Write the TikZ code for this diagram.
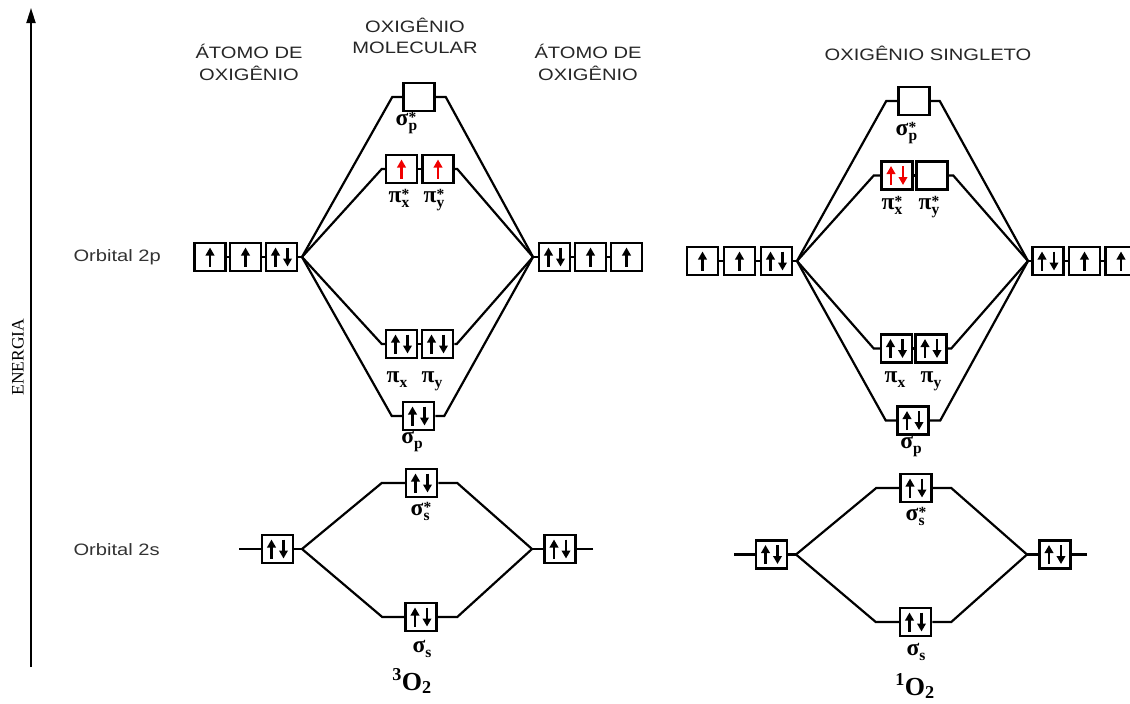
\documentclass[tikz,border=0pt]{standalone}
\usepackage{fontspec}
\setmainfont{Liberation Serif}
\newfontfamily\hdrfont[FakeStretch=1.22]{Liberation Sans}
\usetikzlibrary{arrows.meta,calc}

\definecolor{spinred}{RGB}{240,0,0}

\tikzset{
  obox/.style={draw, line width=2.5pt, minimum width=31pt, minimum height=28pt, inner sep=0pt},
  link/.style={line width=2.2pt, line join=miter},
  spin/.style={line width=2.3pt, -{Triangle[length=8pt,width=8.5pt]}},
  hdr/.style={font=\hdrfont\fontsize{16.5}{21.5}\selectfont, align=center, text=black!85},
  side/.style={font=\hdrfont\fontsize{16.5}{20}\selectfont, text=black!80, anchor=west},
  olbl/.style={font=\bfseries\fontsize{23.5}{23.5}\selectfont, anchor=base},
  mlbl/.style={font=\bfseries\fontsize{26}{26}\selectfont, anchor=base},
}

% electron spins drawn inside an orbital box
\newcommand\spinup[3][black]{\draw[spin,#1] ($(#2)+(#3,9.5)$) -- ++(0,-19);}
\newcommand\spindn[3][black]{\draw[spin,#1] ($(#2)+(#3,-9.5)$) -- ++(0,19);}
\newcommand\pairin[2][black]{\spinup[#1]{#2}{-6}\spindn[#1]{#2}{6}}

% orbital labels
\newcommand\sbs{\fontsize{15.5}{15.5}\selectfont}
\newcommand\orb[2]{#1\raisebox{-0.22em}{\sbs #2}}
\newcommand\orbst[2]{#1\rlap{\raisebox{-0.25em}{\sbs #2}}\raisebox{0.12em}{\sbs *}}

\begin{document}
\begin{tikzpicture}[x=1pt,y=-1pt]
\useasboundingbox (0,0) rectangle (1130,704);
\clip (0,0) rectangle (1130,704);

% energy axis
\coordinate (axb) at (31,667);
\coordinate (axt) at (31,8);
\draw[line width=1.8pt, -{Triangle[length=15pt,width=9pt]}] (axb) -- (axt);
\node[rotate=90, font=\fontsize{17.5}{17.5}\selectfont] (en) at (18,357) {ENERGIA};

% headings
\node[hdr] (hA) at (249,62.5) {ÁTOMO DE\\OXIGÊNIO};
\node[hdr] (hM) at (415,36) {OXIGÊNIO\\MOLECULAR};
\node[hdr] (hB) at (588,62.5) {ÁTOMO DE\\OXIGÊNIO};
\node[hdr] (hS) at (928,53) {OXIGÊNIO SINGLETO};
\node[side] (t2p) at (70,257) {Orbital 2p};
\node[side] (t2s) at (70,550) {Orbital 2s};

% ===================== triplet oxygen =====================
\node[obox] (Lp1) at (210,257) {};
\node[obox] (Lp2) at (245.5,257) {};
\node[obox] (Lp3) at (281.5,257) {};
\node[obox] (Rp1) at (554.5,257) {};
\node[obox] (Rp2) at (590.5,257) {};
\node[obox] (Rp3) at (626.5,257) {};
\node[obox] (Asp) at (419,97) {};
\node[obox] (Apx) at (401.5,169) {};
\node[obox] (Apy) at (438,169) {};
\node[obox] (Bpx) at (401.5,344) {};
\node[obox] (Bpy) at (437.5,344) {};
\node[obox] (Bsp) at (418.5,416) {};
\node[obox] (Ass) at (421.5,483) {};
\node[obox] (Bss) at (421,617) {};
\node[obox] (Ls) at (277.5,549) {};
\node[obox] (Rs) at (560,549) {};

\coordinate (lc) at (302,257);
\coordinate (rc) at (533,257);
\coordinate (lcs) at (302,549);
\coordinate (rcs) at (532,549);
\coordinate (lend) at (239,549);
\coordinate (rend) at (593,549);

\draw[link] (Lp1.east) -- (Lp2.west) (Lp2.east) -- (Lp3.west) (Lp3.east) -- (lc);
\draw[link] (Rp3.west) -- (Rp2.east) (Rp2.west) -- (Rp1.east) (Rp1.west) -- (rc);
\draw[link] (Apx.east) -- (Apy.west) (Bpx.east) -- (Bpy.west);
\draw[link] (lc) -- ($(Asp.west)+(-10,0)$) -- (Asp.west);
\draw[link] (Asp.east) -- ++(10,0) -- (rc);
\draw[link] (lc) -- ($(Apx.west)+(-3,0)$) -- (Apx.west);
\draw[link] (Apy.east) -- ++(2.5,0) -- (rc);
\draw[link] (lc) -- ($(Bpx.west)+(-3,0)$) -- (Bpx.west);
\draw[link] (Bpy.east) -- ++(2.5,0) -- (rc);
\draw[link] (lc) -- ($(Bsp.west)+(-10,0)$) -- (Bsp.west);
\draw[link] (Bsp.east) -- ++(9,0) -- (rc);
\draw[link] (lend) -- (Ls.west) (Ls.east) -- (lcs);
\draw[link] (rend) -- (Rs.east) (Rs.west) -- (rcs);
\draw[link] (lcs) -- ($(Ass.west)+(-23,0)$) -- (Ass.west);
\draw[link] (Ass.east) -- ++(19,0) -- (rcs);
\draw[link] (lcs) -- ($(Bss.west)+(-22,0)$) -- (Bss.west);
\draw[link] (Bss.east) -- ++(19.5,0) -- (rcs);

\spinup{Lp1}{0} \spinup{Lp2}{0} \pairin{Lp3}
\pairin{Rp1} \spinup{Rp2}{0} \spinup{Rp3}{0}
\spinup[spinred]{Apx}{0} \spinup[spinred]{Apy}{0}
\pairin{Bpx} \pairin{Bpy} \pairin{Bsp}
\pairin{Ass} \pairin{Bss} \pairin{Ls} \pairin{Rs}

\node[olbl] (lAsp) at (406,125) {\orbst{σ}{p}};
\node[olbl] (lApx) at (399,202) {\orbst{π}{x}};
\node[olbl] (lApy) at (434,202) {\orbst{π}{y}};
\node[olbl] (lBpx) at (397,382) {\orb{π}{x}};
\node[olbl] (lBpy) at (432,382) {\orb{π}{y}};
\node[olbl] (lBsp) at (412,443) {\orb{σ}{p}};
\node[olbl] (lAss) at (421,515) {\orbst{σ}{s}};
\node[olbl] (lBss) at (422,652) {\orb{σ}{s}};
\node[mlbl] (m3) at (412,690) {\textsuperscript{3}O\textsubscript{2}};

% ===================== singlet oxygen =====================
\node[obox] (Sp1) at (702.5,261) {};
\node[obox] (Sp2) at (739.5,261) {};
\node[obox] (Sp3) at (776.5,261) {};
\node[obox] (Tp1) at (1048,261) {};
\node[obox] (Tp2) at (1084.5,261) {};
\node[obox] (Tp3) at (1121,261) {};
\node[obox] (Csp) at (914,101) {};
\node[obox] (Cpx) at (897,175.5) {};
\node[obox] (Cpy) at (932,175.5) {};
\node[obox] (Dpx) at (896.5,348.5) {};
\node[obox] (Dpy) at (931,348.5) {};
\node[obox] (Dsp) at (913,420.5) {};
\node[obox] (Css) at (916,488) {};
\node[obox] (Dss) at (915.5,622) {};
\node[obox] (Ss) at (771.5,554.5) {};
\node[obox] (Ts) at (1055,554.5) {};

\coordinate (sc) at (797,261);
\coordinate (tc) at (1028,261);
\coordinate (scs) at (796,554.5);
\coordinate (tcs) at (1027,554.5);
\coordinate (send) at (734,554.5);
\coordinate (tend) at (1087,554.5);

\draw[link] (Sp1.east) -- (Sp2.west) (Sp2.east) -- (Sp3.west) (Sp3.east) -- (sc);
\draw[link] (Tp3.west) -- (Tp2.east) (Tp2.west) -- (Tp1.east) (Tp1.west) -- (tc);
\draw[link] (Cpx.east) -- (Cpy.west) (Dpx.east) -- (Dpy.west);
\draw[link] (sc) -- ($(Csp.west)+(-11,0)$) -- (Csp.west);
\draw[link] (Csp.east) -- ++(9,0) -- (tc);
\draw[link] (sc) -- ($(Cpx.west)+(-6.5,0)$) -- (Cpx.west);
\draw[link] (Cpy.east) -- ++(4.5,0) -- (tc);
\draw[link] (sc) -- ($(Dpx.west)+(-6,0)$) -- (Dpx.west);
\draw[link] (Dpy.east) -- ++(3.5,0) -- (tc);
\draw[link] (sc) -- ($(Dsp.west)+(-10.5,0)$) -- (Dsp.west);
\draw[link] (Dsp.east) -- ++(10.5,0) -- (tc);
\draw[link] (send) -- (Ss.west) (Ss.east) -- (scs);
\draw[link] (tend) -- (Ts.east) (Ts.west) -- (tcs);
\draw[link] (scs) -- ($(Css.west)+(-23,0)$) -- (Css.west);
\draw[link] (Css.east) -- ++(18.5,0) -- (tcs);
\draw[link] (scs) -- ($(Dss.west)+(-23,0)$) -- (Dss.west);
\draw[link] (Dss.east) -- ++(19,0) -- (tcs);

\spinup{Sp1}{0} \spinup{Sp2}{0} \pairin{Sp3}
\pairin{Tp1} \spinup{Tp2}{0} \spinup{Tp3}{0}
\pairin[spinred]{Cpx}
\pairin{Dpx} \pairin{Dpy} \pairin{Dsp}
\pairin{Css} \pairin{Dss} \pairin{Ss} \pairin{Ts}

\node[olbl] (lCsp) at (906,135) {\orbst{σ}{p}};
\node[olbl] (lCpx) at (892,209) {\orbst{π}{x}};
\node[olbl] (lCpy) at (929,209) {\orbst{π}{y}};
\node[olbl] (lDpx) at (895,382) {\orb{π}{x}};
\node[olbl] (lDpy) at (931,382) {\orb{π}{y}};
\node[olbl] (lDsp) at (911,448) {\orb{σ}{p}};
\node[olbl] (lCss) at (916,520) {\orbst{σ}{s}};
\node[olbl] (lDss) at (916,655) {\orb{σ}{s}};
\node[mlbl] (m1) at (915,695) {\textsuperscript{1}O\textsubscript{2}};
\end{tikzpicture}
\end{document}
